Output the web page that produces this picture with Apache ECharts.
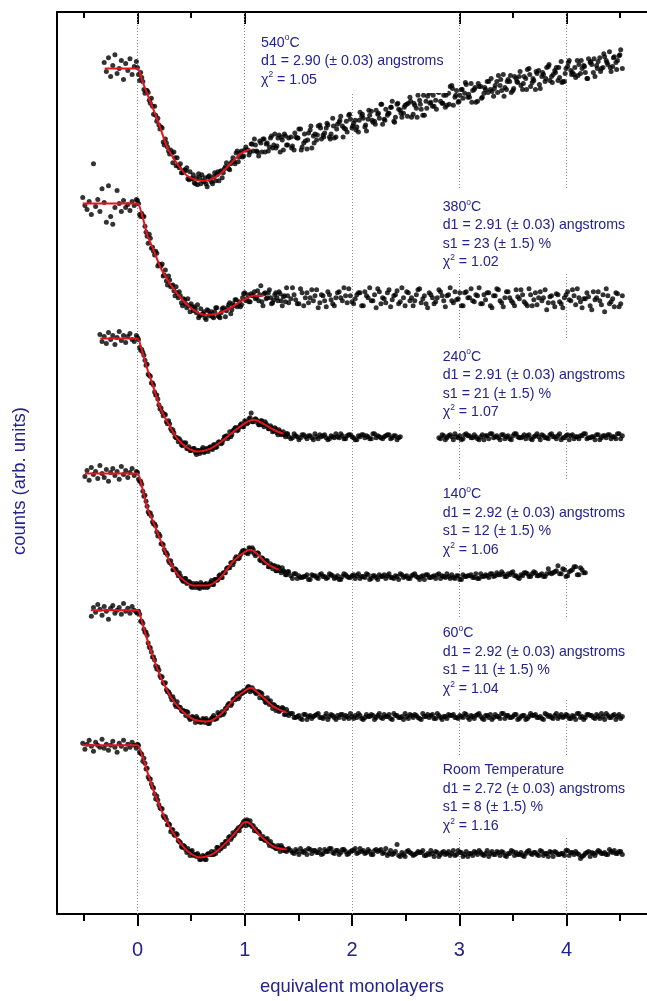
<!DOCTYPE html>
<html><head><meta charset="utf-8">
<script src="https://cdn.jsdelivr.net/npm/echarts@6/dist/echarts.min.js"></script>
<style>html,body{margin:0;padding:0;background:#fff}#c{width:647px;height:1001px}</style>
</head><body><div id="c"></div>
<script>
// ---------- shared x grids ----------
const plateauX = [-0.51,-0.49,-0.47,-0.45,-0.43,-0.41,-0.39,-0.37,-0.35,-0.33,-0.31,-0.29,-0.27,-0.25,-0.23,-0.21,-0.19,-0.17,-0.15,-0.13,-0.11,-0.09,-0.07,-0.05,-0.03,-0.01];
const descX = [0,0.02,0.04,0.06,0.08,0.1,0.12,0.14,0.16,0.18,0.2,0.22,0.24,0.26,0.28,0.3,0.32,0.34,0.36,0.38,0.4,0.42,0.44,0.46,0.48,0.5,0.52,0.54,0.56,0.58,0.6,0.62,0.64,0.66,0.68,0.7,0.72,0.74,0.76,0.78,0.8,0.82,0.84,0.86,0.88,0.9,0.92,0.94,0.96,0.98,1,1.02,1.04,1.06,1.08,1.1,1.12,1.14,1.16,1.18,1.2,1.22,1.24,1.26,1.28,1.3,1.32,1.34,1.36,1.38,1.4];
const descX2 = [0.01,0.03,0.05,0.07,0.09,0.11,0.13,0.15,0.17,0.19,0.21,0.23,0.25,0.27,0.29,0.31,0.33,0.35,0.37,0.39,0.41,0.43,0.45,0.47,0.49,0.51,0.53,0.55,0.57,0.59,0.61,0.63,0.65,0.67,0.69,0.71,0.73,0.75,0.77,0.79,0.81,0.83,0.85,0.87,0.89,0.91,0.93,0.95,0.97,0.99,1.01,1.03,1.05,1.07,1.09,1.11,1.13,1.15,1.17,1.19,1.21,1.23,1.25,1.27,1.29,1.31,1.33,1.35,1.37,1.39,1.41];
const tailX = [1.43,1.46,1.49,1.52,1.55,1.58,1.61,1.64,1.67,1.70,1.73,1.76,1.79,1.82,1.85,1.88,1.91,1.94,1.97,2.00,2.03,2.06,2.09,2.12,2.15,2.18,2.21,2.24,2.27,2.30,2.33,2.36,2.39,2.42,2.45,2.48,2.51,2.54,2.57,2.60,2.63,2.66,2.69,2.72,2.75,2.78,2.81,2.84,2.87,2.90,2.93,2.96,2.99,3.02,3.05,3.08,3.11,3.14,3.17,3.20,3.23,3.26,3.29,3.32,3.35,3.38,3.41,3.44,3.47,3.50,3.53,3.56,3.59,3.62,3.65,3.68,3.71,3.74,3.77,3.80,3.83,3.86,3.89,3.92,3.95,3.98,4.01,4.04,4.07,4.10,4.13,4.16,4.19,4.22,4.25,4.28,4.31,4.34,4.37,4.40,4.43,4.46,4.49,4.52];
const tailX2 = [1.445,1.475,1.505,1.535,1.565,1.595,1.625,1.655,1.685,1.715,1.745,1.775,1.805,1.835,1.865,1.895,1.925,1.955,1.985,2.015,2.045,2.075,2.105,2.135,2.165,2.195,2.225,2.255,2.285,2.315,2.345,2.375,2.405,2.435,2.465,2.495,2.525,2.555,2.585,2.615,2.645,2.675,2.705,2.735,2.765,2.795,2.825,2.855,2.885,2.915,2.945,2.975,3.005,3.035,3.065,3.095,3.125,3.155,3.185,3.215,3.245,3.275,3.305,3.335,3.365,3.395,3.425,3.455,3.485,3.515,3.545,3.575,3.605,3.635,3.665,3.695,3.725,3.755,3.785,3.815,3.845,3.875,3.905,3.935,3.965,3.995,4.025,4.055,4.085,4.115,4.145,4.175,4.205,4.235,4.265,4.295,4.325,4.355,4.385,4.415,4.445,4.475,4.505];
const tailX3 = [1.437,1.467,1.497,1.527,1.557,1.587,1.617,1.647,1.677,1.707,1.737,1.767,1.797,1.827,1.857,1.887,1.917,1.947,1.977,2.007,2.037,2.067,2.097,2.127,2.157,2.187,2.217,2.247,2.277,2.307,2.337,2.367,2.397,2.427,2.457,2.487,2.517,2.547,2.577,2.607,2.637,2.667,2.697,2.727,2.757,2.787,2.817,2.847,2.877,2.907,2.937,2.967,2.997,3.027,3.057,3.087,3.117,3.147,3.177,3.207,3.237,3.267,3.297,3.327,3.357,3.387,3.417,3.447,3.477,3.507,3.537,3.567,3.597,3.627,3.657,3.687,3.717,3.747,3.777,3.807,3.837,3.867,3.897,3.927,3.957,3.987,4.017,4.047,4.077,4.107,4.137,4.167,4.197,4.227,4.257,4.287,4.317,4.347,4.377,4.407,4.437,4.467,4.497];

// ---------- Room temperature ----------
const pRT = [172,166,171,175,169,164,173,170,168,176,167,171,165,170,174,168,163,172,169,175,166,171,168,173,170,167];
const dRT = [171,163,161,157,146,138,136,128,121,119,110,106,99,98,90,90,85,80,81,74,72,67,68,62,63,63,59,60,61,55,56,58,55,61,60,60,63,67,64,66,70,73,71,78,77,79,84,87,88,91,94,95,90,90,89,86,83,81,76,75,75,72,73,68,67,66,67,69,64,64,65];
const dRTb = [170,162,154,152,147,136,131,127,116,115,107,106,97,95,91,83,85,79,80,73,68,69,65,66,59,64,60,58,59,55,59,55,60,60,63,60,61,67,66,70,68,73,77,75,82,81,85,84,89,93,89,93,94,88,84,84,83,76,78,74,76,69,70,69,66,69,63,67,65,63,66];
const tRT = [64,61,63,66,62,60,65,64,62,65,61,63,66,62,64,60,65,63,61,64,66,62,63,61,65,60,64,63,65,62,59,64,61,70,58,60,63,62,59,61,62,64,59,60,61,63,58,62,60,63,61,59,64,62,60,58,61,63,60,62,59,64,61,60,63,59,62,58,61,63,62,60,59,61,64,60,62,59,63,61,58,62,63,60,61,59,64,62,60,61,56,59,62,58,61,62,63,61,60,65,62,61,63,60];
const tRTb = [62,65,60,63,64,66,61,64,62,60,65,63,66,61,64,62,65,60,63,64,61,66,64,62,63,60,65,64,61,66,61,60,63,59,62,58,64,61,60,63,62,59,61,64,58,62,60,63,61,59,64,60,62,58,63,61,59,62,64,60,61,58,63,60,62,63,59,61,64,59,60,62,58,63,61,62,60,64,59,61,63,58,62,60,61,64,59,62,63,60,58,61,63,62,59,64,61,62,60,63,64,61,63];
const fRT = [[-0.51,170],[-0.03,170],[0,170],[0.046,159],[0.093,143],[0.155,123],[0.217,106],[0.31,86],[0.403,71],[0.496,61],[0.588,57],[0.712,61],[0.836,73],[0.929,84],[1.006,93],[1.052,91],[1.145,79],[1.269,68],[1.392,65]];

// ---------- 60 C ----------
const p60 = [null,null,null,null,300,309,304,312,307,301,310,305,297,308,311,303,306,309,302,313,305,308,303,310,306,304];
const d60 = [303,302,295,287,284,273,268,259,256,247,246,238,233,233,224,222,216,216,209,209,208,204,204,204,198,197,198,193,197,195,194,196,197,192,195,198,196,197,201,201,201,207,210,212,212,217,219,217,223,223,224,227,229,226,225,223,224,218,222,217,213,215,215,207,210,208,204,206,207,201,203];
const d60b = [305,295,293,284,281,269,264,259,250,249,240,239,232,226,224,219,219,211,214,208,205,205,200,203,196,199,197,199,194,193,197,193,195,192,197,200,197,203,200,204,203,207,212,210,216,216,222,219,222,225,225,229,224,228,225,222,224,223,218,214,218,211,211,211,205,208,205,208,201,206,200];
const t60 = [202,198,199,197,201,196,200,199,201,198,197,202,199,200,196,198,201,200,197,199,200,202,197,198,199,201,196,200,198,201,199,197,202,200,198,196,199,201,198,200,197,202,199,198,201,197,200,196,199,201,200,198,197,199,202,198,200,197,201,199,196,200,201,198,199,197,202,200,198,199,201,197,200,196,199,200,201,198,197,202,199,198,200,197,201,199,200,197,199,202,198,196,201,200,198,201,197,199,202,198,200,196,201,199];
const t60b = [202,198,200,196,201,199,197,200,202,198,199,196,201,198,200,201,197,199,202,197,198,200,196,201,199,200,198,202,197,199,201,196,200,198,199,202,197,200,201,198,196,199,201,200,197,202,198,199,197,200,201,198,200,198,201,196,199,200,202,197,200,198,196,201,199,202,197,200,198,201,196,199,200,197,202,200,198,199,196,201,200,197,202,199,198,201,197,200,196,202,199,198,201,200,197,199,202,196,200,198,201,199,197];
const f60 = [[-0.433,306],[-0.03,306],[0,306],[0.046,293],[0.093,276],[0.155,256],[0.217,239],[0.31,219],[0.403,206],[0.526,196],[0.65,194],[0.774,201],[0.897,216],[0.99,224],[1.052,228],[1.145,221],[1.269,209],[1.392,203]];

// ---------- 140 C ----------
const p140 = [null,441,447,437,450,443,446,439,452,444,440,448,436,445,449,442,446,438,451,443,447,440,445,449,442,446];
const d140 = [445,436,433,421,416,405,404,395,393,385,383,373,372,364,362,354,352,347,347,341,341,336,338,333,335,330,333,329,332,328,332,329,333,330,334,332,337,336,341,339,344,344,349,349,354,355,360,358,362,366,366,364,369,365,367,361,364,357,359,354,356,350,353,348,351,346,349,344,346,342,345];
const d140b = [438,436,426,422,411,403,401,393,391,381,381,373,367,364,356,356,347,348,344,344,338,335,338,334,334,329,331,333,329,334,330,332,329,332,336,332,337,337,342,339,344,348,349,354,352,358,359,359,364,366,364,363,368,369,363,363,363,356,358,354,356,350,351,351,346,350,346,349,345,342,345];
const t140 = [341,343,338,339,340,342,337,341,339,342,340,338,343,341,339,337,340,342,339,341,338,343,340,339,342,338,341,337,340,342,341,339,338,340,343,339,341,338,342,340,337,341,342,339,340,338,343,341,339,340,342,338,341,337,340,341,342,339,338,343,340,341,343,340,344,342,343,340,342,345,341,338,341,344,340,343,344,341,343,340,348,343,345,351,343,347,341,346,350,342,349,344,null,null,null,null,null,null,null,null,null,null,null,null];
const t140b = [338,343,341,339,340,337,342,341,338,343,340,339,342,338,341,337,343,340,339,342,341,338,340,343,337,341,339,342,340,338,343,339,341,337,342,340,338,341,343,339,340,337,342,339,341,342,338,340,343,338,339,341,337,342,340,341,339,343,338,340,342,339,343,341,342,345,340,343,344,341,339,342,344,343,340,345,341,342,340,343,344,344,346,343,348,340,345,347,350,342,347,344,null,null,null,null,null,null,null,null,null,null,null];
const f140 = [[-0.49,444],[-0.03,444],[0,444],[0.046,429],[0.093,409],[0.155,393],[0.217,376],[0.31,353],[0.403,339],[0.526,331],[0.65,331],[0.774,339],[0.897,356],[0.99,364],[1.052,367],[1.114,363],[1.207,353],[1.315,347]];

// ---------- 240 C ----------
const p240 = [null,null,null,null,null,null,null,null,584,577,582,575,586,579,583,574,581,587,578,583,576,582,585,579,577,583];
const d240 = [581,571,569,563,553,544,542,535,526,523,513,510,502,503,494,494,487,485,480,476,477,472,474,469,471,467,469,465,467,464,468,465,469,466,471,468,473,471,476,474,478,481,479,486,483,488,490,488,493,491,497,494,499,505,496,499,495,493,497,491,494,489,492,486,490,485,488,483,486,481,484];
const d240b = [579,568,566,558,554,543,535,533,523,519,509,506,504,496,497,489,488,481,480,479,473,475,475,469,467,468,469,463,467,466,470,466,468,470,469,473,470,475,475,475,481,482,481,481,487,490,487,491,494,491,496,495,500,496,498,498,493,497,493,496,492,489,490,487,489,483,486,484,483,484,481];
const t240 = [479,484,481,480,483,479,482,478,481,483,482,480,479,481,484,480,482,479,483,481,478,482,483,480,481,479,484,482,480,481,483,479,482,478,481,null,null,null,null,null,null,null,null,null,null,null,480,483,478,482,481,484,480,478,483,482,480,483,479,481,478,482,484,480,482,478,483,481,479,482,484,480,481,479,483,478,482,481,483,480,479,484,481,482,478,480,483,482,479,481,482,484,479,480,481,483,478,482,480,483,481,479,484,482];
const t240b = [480,482,478,483,481,482,480,484,479,481,483,478,482,480,481,484,479,482,483,480,478,481,483,482,479,484,480,481,479,482,483,480,482,480,null,null,null,null,null,null,null,null,null,null,null,null,479,482,480,483,478,481,482,479,484,482,480,481,478,483,482,479,484,481,480,483,479,482,478,484,481,480,483,482,479,481,484,478,482,480,483,481,479,484,480,482,478,483,481,479,482,484,480,481,478,483,480,482,483,479,481,484,479];
const f240 = [[-0.346,580],[-0.03,580],[0,580],[0.046,566],[0.093,549],[0.155,529],[0.217,509],[0.278,496],[0.371,479],[0.464,470],[0.557,466],[0.681,469],[0.805,478],[0.929,489],[1.021,496],[1.083,498],[1.176,494],[1.269,488],[1.361,484]];

// ---------- 380 C ----------
const p380 = [722,714,710,718,705,756,713,720,708,731,717,697,734,703,695,712,729,716,708,719,712,715,709,718,714,720];
const d380 = [719,705,706,703,687,676,681,672,664,666,655,653,643,649,634,639,633,628,632,621,623,613,619,611,613,615,608,610,614,603,604,607,599,608,605,602,607,611,602,606,611,602,611,616,609,613,619,614,612,621,626,620,617,625,623,620,628,624,617,625,620,626,621,616,624,621,627,618,622,617,623];
const d380b = [716,703,703,693,683,685,671,668,668,653,654,655,644,638,643,632,634,623,626,627,616,620,615,620,607,612,612,606,601,610,605,601,609,603,607,601,611,603,601,610,609,608,614,605,615,619,612,617,614,625,618,624,617,623,627,621,618,633,613,626,621,629,615,619,626,618,625,613,623,631,616];
const t380 = [620,624,615,630,613,626,621,618,629,616,623,612,624,615,621,627,618,623,630,617,620,626,613,627,621,618,624,630,615,620,626,612,623,628,617,621,627,618,613,624,630,620,615,626,621,617,629,623,612,624,618,627,620,613,626,621,630,617,623,615,624,626,613,623,630,618,612,627,621,616,629,620,624,615,630,613,626,621,618,629,616,623,612,624,615,621,627,618,623,630,617,620,626,613,627,621,618,624,630,615,620,626,612,623];
const t380b = [631,619,615,626,621,616,629,623,611,624,618,627,619,613,626,621,631,616,623,615,624,626,613,623,631,618,611,627,621,616,629,619,624,615,631,613,626,621,618,629,616,623,611,624,615,621,627,618,623,631,616,619,626,613,627,621,618,624,631,615,619,626,611,623,629,616,621,627,618,613,622,629,617,613,624,619,614,627,621,609,622,616,625,617,611,624,619,629,614,621,611,620,622,609,619,627,614,607,623,617,612,625,615];
const f380 = [[-0.51,716],[-0.03,716],[0,716],[0.046,703],[0.093,684],[0.155,668],[0.217,651],[0.31,634],[0.403,621],[0.496,611],[0.619,604],[0.743,605],[0.867,611],[0.99,619],[1.083,623],[1.176,623]];

// ---------- 540 C ----------
const p540 = [null,null,null,null,null,null,null,null,null,null,858,849,863,844,855,866,847,852,860,841,857,850,862,846,854,859];
const d540 = [853,840,843,831,830,828,817,814,814,799,795,793,778,781,773,766,767,768,754,754,756,747,750,752,740,741,745,736,735,742,745,738,736,743,740,736,747,745,739,749,747,753,752,750,758,758,767,758,767,763,770,770,765,776,769,775,768,779,768,781,776,769,782,772,786,774,785,783,770,784,775];
const d540b = [846,848,839,827,830,820,822,806,805,802,791,792,775,777,769,770,757,762,762,752,747,749,749,741,748,741,737,742,746,736,739,742,733,744,738,743,739,748,748,742,751,757,751,756,762,756,769,763,769,764,773,770,768,776,781,769,764,777,781,768,777,773,784,775,772,782,768,780,786,775,782];
const t540 = [783,770,782,791,777,771,790,784,780,795,785,792,783,802,783,798,794,791,805,792,800,788,804,793,801,809,799,806,816,801,805,813,799,816,810,807,816,823,806,812,820,805,819,827,814,820,828,817,813,827,835,823,818,831,827,823,837,831,819,834,827,839,831,824,839,835,846,831,839,830,842,844,831,842,852,838,831,850,844,839,854,844,850,840,859,839,854,850,846,860,847,855,842,858,848,855,863,853,860,869,854,858,865,852];
const t540b = [774,783,791,773,779,787,772,786,794,781,787,795,786,782,796,804,792,788,801,797,793,808,802,789,805,798,810,802,796,811,807,819,803,811,803,815,817,803,815,825,811,805,824,818,814,829,819,825,815,834,815,830,825,822,836,823,830,818,834,823,831,839,829,835,845,830,833,841,828,844,838,835,844,851,834,840,847,832,846,853,840,846,853,843,839,852,860,848,843,856,852,848,862,856,844,859,852,864,856,849,864,860,871];
const t540c = [772,787,782,770,786,780,794,777,785,792,783,797,781,794,791,800,783,799,806,794,790,800,806,795,810,800,796,807,816,800,807,813,798,817,807,813,804,819,817,803,816,825,812,817,825,811,831,817,825,816,832,825,819,831,838,826,818,833,837,822,833,828,842,832,828,841,824,839,845,832,839,849,837,831,846,842,849,836,848,842,856,838,848,853,838,847,858,846,853,845,860,854,842,859,862,852,849,867,858,853,863,851,866];
const f540 = [[-0.305,852],[-0.03,852],[0,852],[0.046,839],[0.093,826],[0.155,809],[0.217,791],[0.264,776],[0.295,769],[0.372,756],[0.464,744],[0.588,739],[0.681,740],[0.774,746],[0.867,756],[0.96,766],[1.052,771]];

// ---------- axis ticks / labels / annotations ----------
const majorTicks = [0,1,2,3,4];
const minorTicks = [-0.5,0.5,1.5,2.5,3.5,4.5];
const gridX = [0,1,2,3,4];
const xTitle = 'equivalent monolayers';
const yTitle = 'counts (arb. units)';
const ann540 = ['540{s|o}C','d1 = 2.90 (± 0.03) angstroms','χ{s|2} = 1.05'];
const ann380 = ['380{s|o}C','d1 = 2.91 (± 0.03) angstroms','s1 = 23 (± 1.5) %','χ{s|2} = 1.02'];
const ann240 = ['240{s|o}C','d1 = 2.91 (± 0.03) angstroms','s1 = 21 (± 1.5) %','χ{s|2} = 1.07'];
const ann140 = ['140{s|o}C','d1 = 2.92 (± 0.03) angstroms','s1 = 12 (± 1.5) %','χ{s|2} = 1.06'];
const ann60  = ['60{s|o}C','d1 = 2.92 (± 0.03) angstroms','s1 = 11 (± 1.5) %','χ{s|2} = 1.04'];
const annRT  = ['Room Temperature','d1 = 2.72 (± 0.03) angstroms','s1 = 8 (± 1.5) %','χ{s|2} = 1.16'];

// ---------- build ----------
const NAVY = '#23238e';
const FONT = '"Liberation Sans", Arial, sans-serif';
function zip(xs, ys){ const out=[]; for(let i=0;i<xs.length;i++){ if(ys[i]!=null) out.push([xs[i], ys[i]]); } return out; }

const curves = [
  {name:'RT', data: zip(plateauX,pRT).concat(zip(descX,dRT), zip(descX2,dRTb), zip(tailX,tRT), zip(tailX2,tRTb)), fit:fRT},
  {name:'60', data: zip(plateauX,p60).concat(zip(descX,d60), zip(descX2,d60b), zip(tailX,t60), zip(tailX2,t60b)), fit:f60},
  {name:'140', data: zip(plateauX,p140).concat(zip(descX,d140), zip(descX2,d140b), zip(tailX,t140), zip(tailX2,t140b)), fit:f140},
  {name:'240', data: zip(plateauX,p240).concat(zip(descX,d240), zip(descX2,d240b), zip(tailX,t240), zip(tailX2,t240b)), fit:f240},
  {name:'380', data: zip(plateauX,p380).concat(zip(descX,d380), zip(descX2,d380b), zip(tailX,t380), zip(tailX2,t380b)), fit:f380},
  {name:'540', data: zip(plateauX,p540).concat(zip(descX,d540), zip(descX2,d540b), zip(tailX,t540), zip(tailX2,t540b), zip(tailX3,t540c)), fit:f540}
];

const series = [];
series.push({
  type:'line', data:[], silent:true,
  markLine:{ z:1, silent:true, symbol:['none','none'], label:{show:false},
    lineStyle:{color:'#8a8a8a', width:1, type:[1,2]},
    data: gridX.map(v=>({xAxis:v})) }
});
curves.forEach(c=>{
  series.push({type:'scatter', name:c.name+' data', data:c.data, symbol:'circle', symbolSize:5,
    itemStyle:{color:'#000'}, z:2, silent:true});
});
curves.forEach(c=>{
  series.push({type:'line', name:c.name+' fit', data:c.fit, showSymbol:false, smooth:0.3,
    lineStyle:{color:'#e8141c', width:2}, z:4, silent:true});
});

function annot(lines, left, top, pad){
  return { type:'text', left:left, top:top, z:3, silent:true,
    style:{ text: lines.join('\n'), fill: NAVY, fontSize: 14.2, fontFamily: FONT, lineHeight: 18.5,
      backgroundColor:'#fff', padding: pad,
      rich:{ s:{ fontSize: 8.5, fontFamily: FONT, fill: NAVY, verticalAlign:'top', lineHeight: 10 } } } };
}

const axisBlack = {color:'#000', width:2};
const xBase = {type:'value', min:-0.75, max:4.75, splitLine:{show:false}};
const option = {
  animation:false,
  backgroundColor:'#fff',
  grid:{left:57, right:-3, top:12, bottom:80},
  xAxis:[
    Object.assign({}, xBase, {position:'bottom',
      axisLine:{show:true, onZero:false, lineStyle:axisBlack},
      axisTick:{show:true, customValues:majorTicks, length:12, lineStyle:axisBlack},
      axisLabel:{show:true, customValues:majorTicks, margin:26, fontSize:20, color:NAVY, fontFamily:FONT},
      name:xTitle, nameLocation:'middle', nameGap:64,
      nameTextStyle:{fontSize:18.4, color:NAVY, fontFamily:FONT}}),
    Object.assign({}, xBase, {position:'bottom',
      axisLine:{show:false, onZero:false},
      axisTick:{show:true, customValues:minorTicks, length:7, lineStyle:axisBlack},
      axisLabel:{show:false}}),
    Object.assign({}, xBase, {position:'top',
      axisLine:{show:true, onZero:false, lineStyle:axisBlack},
      axisTick:{show:true, inside:true, customValues:majorTicks, length:12, lineStyle:axisBlack},
      axisLabel:{show:false}}),
    Object.assign({}, xBase, {position:'top',
      axisLine:{show:false, onZero:false},
      axisTick:{show:true, inside:true, customValues:minorTicks, length:6, lineStyle:axisBlack},
      axisLabel:{show:false}})
  ],
  yAxis:{type:'value', min:0, max:909,
    axisLine:{show:true, onZero:false, lineStyle:axisBlack},
    axisTick:{show:false}, axisLabel:{show:false}, splitLine:{show:false}},
  graphic:[
    { type:'text', x:19.5, y:481, rotation:Math.PI/2, silent:true, z:3,
      style:{ text:yTitle, x:0, y:0, align:'center', verticalAlign:'middle', fill:NAVY, fontSize:18.5, fontFamily:FONT } },
    annot(ann540, 258, 13, [20.5,4,4,3]),
    annot(ann380, 439.7, 189.75, [8,4,0.5,3]),
    annot(ann240, 439.7, 338, [9.5,4,0.5,3]),
    annot(ann140, 439.7, 480, [5.25,4,3.75,3]),
    annot(ann60, 439.7, 618, [6.25,4,1.75,3]),
    annot(annRT, 439.7, 755, [6.25,4,1.75,3])
  ],
  series: series
};
const chart = echarts.init(document.getElementById('c'), null, {renderer:'canvas'});
chart.setOption(option);
</script>
</body></html>
